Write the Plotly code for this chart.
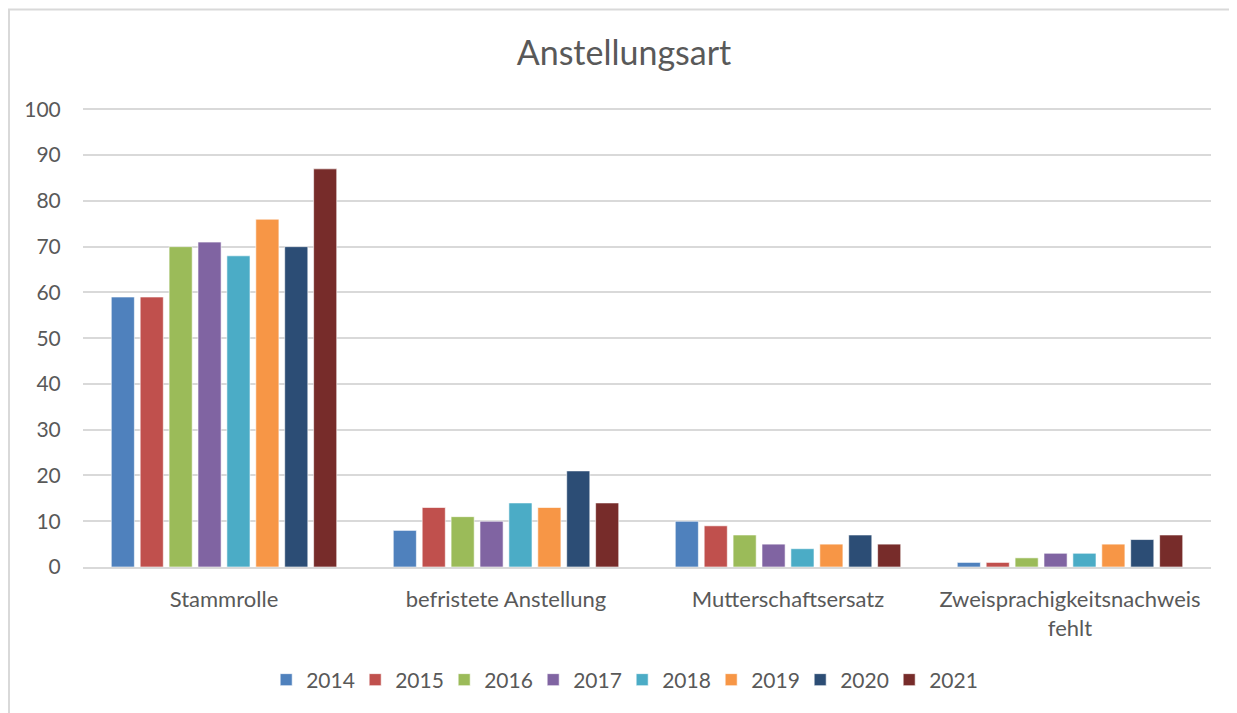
import plotly.graph_objects as go

categories = ["Stammrolle", "befristete Anstellung", "Mutterschaftsersatz",
              "Zweisprachigkeitsnachweis<br>fehlt"]
years = ["2014", "2015", "2016", "2017", "2018", "2019", "2020", "2021"]
values = {
    "2014": [59, 8, 10, 1],
    "2015": [59, 13, 9, 1],
    "2016": [70, 11, 7, 2],
    "2017": [71, 10, 5, 3],
    "2018": [68, 14, 4, 3],
    "2019": [76, 13, 5, 5],
    "2020": [70, 21, 7, 6],
    "2021": [87, 14, 5, 7],
}
colors = ["#4F81BD", "#C0504D", "#9BBB59", "#8064A2",
          "#4BACC6", "#F79646", "#2C4D75", "#772C2A"]
y_ticks = [0, 10, 20, 30, 40, 50, 60, 70, 80, 90, 100]

FONT = "Lato"
TXT = "#595959"

W, H = 1229, 705
L, T, R, B = 75, 100, 26, 146
PW = W - L - R
PH = H - T - B

fig = go.Figure()
for yr, col in zip(years, colors):
    fig.add_trace(go.Bar(
        x=categories, y=values[yr], name=yr,
        marker=dict(color=col, line=dict(color="rgba(255,255,255,0.6)", width=1)),
    ))

fig.update_layout(
    width=W, height=H,
    margin=dict(l=L, r=R, t=T, b=B),
    paper_bgcolor="white", plot_bgcolor="white",
    barmode="group", bargap=0.18, bargroupgap=0.2,
    font=dict(family=FONT, color=TXT, size=21),
    title=dict(text="Anstellungsart", x=616 / W, xanchor="center",
               y=1 - 45 / H, yanchor="middle",
               font=dict(family=FONT, size=34, color=TXT)),
    showlegend=True,
    legend=dict(orientation="h", x=0.478, xanchor="center",
                y=-(680 - 8 - (T + PH)) / PH, yanchor="middle",
                font=dict(family=FONT, size=21, color=TXT),
                entrywidth=44, entrywidthmode="pixels",
                itemclick=False),
    xaxis=dict(showgrid=False, showline=True, linecolor="#d9d9d9", linewidth=2,
               ticks="outside", ticklen=12, tickcolor="rgba(0,0,0,0)",
               tickfont=dict(family=FONT, size=22, color=TXT)),
    yaxis=dict(range=[0, 100.3], tickvals=y_ticks, showgrid=True,
               gridcolor="#d9d9d9", gridwidth=1.5, zeroline=False,
               showline=False, ticks="outside", ticklen=17,
               tickcolor="rgba(0,0,0,0)",
               tickfont=dict(family=FONT, size=21, color=TXT)),
    shapes=[dict(type="rect", xref="paper", yref="paper",
                 x0=(1 - L) / PW, x1=(W + 10 - L) / PW,
                 y0=-(H + 10 - (T + PH)) / PH, y1=1 + (T - 1.5) / PH,
                 line=dict(color="#d9d9d9", width=2), layer="below")],
)

fig.write_html("out.html")
